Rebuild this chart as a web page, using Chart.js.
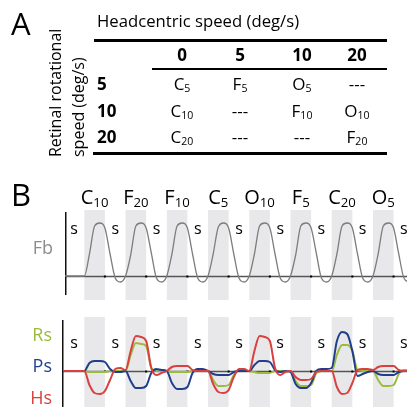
<!DOCTYPE html>
<html>
<head>
<meta charset="utf-8">
<script src="https://cdn.jsdelivr.net/npm/chart.js@4.4.1/dist/chart.umd.min.js"></script>
<style>
  html, body { margin: 0; padding: 0; background: #fff; }
  body { width: 407px; height: 407px; position: relative; overflow: hidden; font-family: "Open Sans", sans-serif; color: #000; }
  canvas { position: absolute; left: 0; top: 0; }
  .t { position: absolute; white-space: nowrap; }
  .rule { position: absolute; background: #000; }
  .sub { font-size: 0.62em; position: relative; top: 0.28em; }
</style>
</head>
<body>
<canvas id="fb" width="407" height="407"></canvas>
<canvas id="sig" width="407" height="407"></canvas>
<div id="labels"></div>
<script>
// table (panel A)
const headSpeeds = ["0", "5", "10", "20"];
const retinalSpeeds = ["5", "10", "20"];
const tableCells = [
  [["C", "5"], ["F", "5"], ["O", "5"], null],
  [["C", "10"], null, ["F", "10"], ["O", "10"]],
  [["C", "20"], null, null, ["F", "20"]]
];

// stimulus sequence (panel B), time in stimulus units
const condLetter = ["C", "F", "F", "C", "O", "F", "C", "O"];
const condSub = ["10", "20", "10", "5", "10", "5", "20", "5"];
const motionOnset = [1, 3, 5, 7, 9, 11, 13, 15];
const motionDuration = 1;
const stillLabelTimes = [0.5, 2.5, 4.5, 6.5, 8.5, 10.5, 12.5, 14.5, 16.5];

const time = [
  0, 0.25, 0.5, 0.75,
  1, 1.25, 1.5, 1.75, 2, 2.25, 2.5, 2.75,
  3, 3.25, 3.5, 3.75, 4, 4.25, 4.5, 4.75,
  5, 5.25, 5.5, 5.75, 6, 6.25, 6.5, 6.75,
  7, 7.25, 7.5, 7.75, 8, 8.25, 8.5, 8.75,
  9, 9.25, 9.5, 9.75, 10, 10.25, 10.5, 10.75,
  11, 11.25, 11.5, 11.75, 12, 12.25, 12.5, 12.75,
  13, 13.25, 13.5, 13.75, 14, 14.25, 14.5, 14.75,
  15, 15.25, 15.5, 15.75, 16, 16.25, 16.5, 16.75
];

const fbRate = [
  0, 0, 0, 0,
  0, 22, 50, 53, 48, 22, -2, -6,
  0, 21, 50, 53, 48, 23, -2, -6,
  0, 22, 50, 53, 48, 22, -2, -6,
  0, 22, 49, 53, 48, 22, -2, -6,
  0, 22, 50, 53, 48, 22, -2, -6,
  0, 21, 50, 53, 48, 23, -2, -6,
  0, 22, 50, 53, 48, 22, -2, -6,
  0, 22, 50, 53, 48, 22, -2, -6
];

const hsSignal = [
  0, 0, 0, 0,
  0, -14, -22, -23, -20, -9, 2, 3,
  1, 20, 35, 34, 30, 3, -4, -2,
  0, 4, 5, 5, 5, 1, 0, 0,
  0, -13, -21, -22, -19, -6, 2, 2,
  0, 20, 35, 34, 30, 3, -4, -1,
  0, -6, -9, -9, -8, -1, 0, 0,
  0, -16, -23, -22, -12, 1, 2, 2,
  1, 4, 5, 5, 5, 1, 0, 0
];

const psSignal = [
  0, 0, 0, 0,
  0, 8, 10, 10, 9, 2, -1, -1,
  0, -10, -17, -17, -15, -2, 2, 1,
  0, -12, -18, -18, -16, -2, 2, 2,
  0, -3, -4, -4, -4, -1, 0, 0,
  0, 6, 10, 10, 9, 1, -1, 0,
  -1, -13, -17, -17, -12, 0, 2, 2,
  3, 30, 39, 37, 20, -5, -3, -1,
  0, -3, -4, -4, -4, -1, 0, 0
];

const rsSignal = [
  0, 0, 0, 0,
  0, -1, -1, -1, -1, 0, 0, 0,
  0, 16, 28, 27, 25, 3, 0, 0,
  0, -1, -1, -1, -1, 0, 0, 0,
  0, -9, -15, -15, -14, -4, 0, 0,
  0, -1, -2, -2, -2, 0, 0, 0,
  0, -10, -15, -15, -14, -2, 0, 0,
  0, 16, 26, 26, 20, 1, 0, 0,
  0, -9, -15, -15, -14, -3, 1, 1
];

const pts = vals => time.map((t, i) => ({ x: t, y: vals[i] }));

// gray motion bands, axis, baseline, ticks and the "s" marks
const bandsPlugin = {
  id: "bands",
  beforeDatasetsDraw(chart, args, opts) {
    const { ctx, chartArea } = chart;
    const x = chart.scales.x, y = chart.scales.y;
    ctx.save();
    ctx.fillStyle = "#e8e8ea";
    const top = y.getPixelForValue(opts.bandTop);
    const bottom = y.getPixelForValue(opts.bandBottom);
    motionOnset.forEach(t => {
      const x0 = x.getPixelForValue(t);
      const x1 = x.getPixelForValue(t + motionDuration);
      ctx.fillRect(x0, top, x1 - x0, bottom - top);
    });
    const y0 = Math.round(y.getPixelForValue(0)) + 0.5;
    ctx.strokeStyle = "#555";
    ctx.lineWidth = 1.5;
    ctx.beginPath();
    ctx.moveTo(chartArea.left, y0);
    ctx.lineTo(chartArea.right, y0);
    ctx.stroke();
    ctx.strokeStyle = "#111";
    ctx.beginPath();
    ctx.moveTo(chartArea.left + 0.75, chartArea.top);
    ctx.lineTo(chartArea.left + 0.75, chartArea.bottom);
    ctx.stroke();
    ctx.fillStyle = "#000";
    motionOnset.forEach(t => {
      const xe = x.getPixelForValue(t + motionDuration);
      ctx.fillRect(xe - 1, y0 - 1, 2, 2);
    });
    ctx.restore();
  },
  afterDatasetsDraw(chart, args, opts) {
    const { ctx } = chart;
    const x = chart.scales.x, y = chart.scales.y;
    ctx.save();
    ctx.fillStyle = "#000";
    ctx.font = "16px 'Open Sans'";
    ctx.textAlign = "center";
    ctx.textBaseline = "middle";
    stillLabelTimes.forEach(t => {
      ctx.fillText("s", x.getPixelForValue(t), y.getPixelForValue(opts.sY));
    });
    ctx.restore();
  }
};

const fbChart = new Chart(document.getElementById("fb"), {
  type: "line",
  data: {
    datasets: [
      {
        data: pts(fbRate),
        borderColor: "#7d7d7d",
        borderWidth: 1.3,
        pointRadius: 0,
        cubicInterpolationMode: "monotone",
      },
    ],
  },
  options: {
    responsive: false,
    animation: false,
    devicePixelRatio: 1,
    layout: { padding: { left: 65, right: 0, top: 212, bottom: 112 } },
    plugins: {
      legend: { display: false },
      tooltip: { enabled: false },
      bands: { bandTop: 66, bandBottom: -24, sY: 47 },
    },
    scales: {
      x: { type: "linear", display: false, min: 0.064, max: 16.65 },
      y: { display: false, min: -19, max: 64 },
    },
  },
  plugins: [bandsPlugin],
});

new Chart(document.getElementById("sig"), {
  type: "line",
  data: {
    datasets: [
      { label: "Hs", data: pts(hsSignal), borderColor: "#d8413f", borderWidth: 2, pointRadius: 0, cubicInterpolationMode: "monotone" },
      { label: "Ps", data: pts(psSignal), borderColor: "#1f3f8d", borderWidth: 2, pointRadius: 0, cubicInterpolationMode: "monotone" },
      { label: "Rs", data: pts(rsSignal), borderColor: "#9bbb3c", borderWidth: 2, pointRadius: 0, cubicInterpolationMode: "monotone" },
    ],
  },
  options: {
    responsive: false,
    animation: false,
    devicePixelRatio: 1,
    layout: { padding: { left: 62, right: 0, top: 320, bottom: 0 } },
    plugins: {
      legend: { display: false },
      tooltip: { enabled: false },
      bands: { bandTop: 54, bandBottom: -36, sY: 28 },
    },
    scales: {
      x: { type: "linear", display: false, min: -0.081, max: 16.65 },
      y: { display: false, min: -36, max: 51 },
    },
  },
  plugins: [bandsPlugin],
});

// text layer
const box = document.getElementById("labels");
function place(html, x, yc, size, opts = {}) {
  const d = document.createElement("div");
  d.className = "t";
  d.innerHTML = html;
  d.style.fontSize = size + "px";
  d.style.lineHeight = size + "px";
  d.style.top = (yc - size / 2) + "px";
  if (opts.weight) d.style.fontWeight = opts.weight;
  if (opts.color) d.style.color = opts.color;
  if (opts.align === "center") { d.style.left = x + "px"; d.style.transform = "translateX(-50%)"; }
  else if (opts.align === "right") { d.style.right = (407 - x) + "px"; }
  else d.style.left = x + "px";
  box.appendChild(d);
  return d;
}
function rule(x, y, w, h) {
  const d = document.createElement("div");
  d.className = "rule";
  Object.assign(d.style, { left: x + "px", top: y + "px", width: w + "px", height: h + "px" });
  box.appendChild(d);
}
const cellHtml = c => c ? c[0] + '<span class="sub">' + c[1] + "</span>" : "---";

place("A", 11, 23, 31);
place("Headcentric speed (deg/s)", 97, 21, 16.7);
rule(94, 39, 293, 3);
rule(152, 68, 235, 1.5);
rule(93, 151.5, 294, 3);

const colX = [182, 240, 302, 357];
const rowY = [83, 110, 136];
headSpeeds.forEach((h, i) => place(h, colX[i], 54.5, 17, { weight: 700, align: "center" }));
retinalSpeeds.forEach((r, j) => {
  place(r, 97, rowY[j], 17, { weight: 700 });
  tableCells[j].forEach((c, i) => place(cellHtml(c), colX[i], rowY[j], 17, { align: "center" }));
});

function vlabel(text, xc, yBottom, size) {
  const d = document.createElement("div");
  d.className = "t";
  d.textContent = text;
  Object.assign(d.style, {
    fontSize: size + "px", lineHeight: size + "px",
    left: (xc - size * 0.53) + "px", top: yBottom + "px",
    transformOrigin: "0 0", transform: "rotate(-90deg)",
  });
  box.appendChild(d);
}
vlabel("Retinal rotational", 55, 157, 16);
vlabel("speed (deg/s)", 78, 157, 16);

place("B", 11, 194, 31);
const xs = fbChart.scales.x;
motionOnset.forEach((t, i) => {
  const xc = xs.getPixelForValue(t + motionDuration / 2);
  place(condLetter[i] + '<span class="sub" style="font-size:0.66em;top:0.22em">' + condSub[i] + "</span>", xc, 197, 20, { align: "center" });
});

place("Fb", 53, 247, 18, { align: "right", color: "#8c8c8c" });
place("Rs", 52, 334, 18, { align: "right", color: "#9bbb3c" });
place("Ps", 52, 365, 18, { align: "right", color: "#1f3f8d" });
place("Hs", 52, 397, 18, { align: "right", color: "#d8413f" });
</script>
</body>
</html>
